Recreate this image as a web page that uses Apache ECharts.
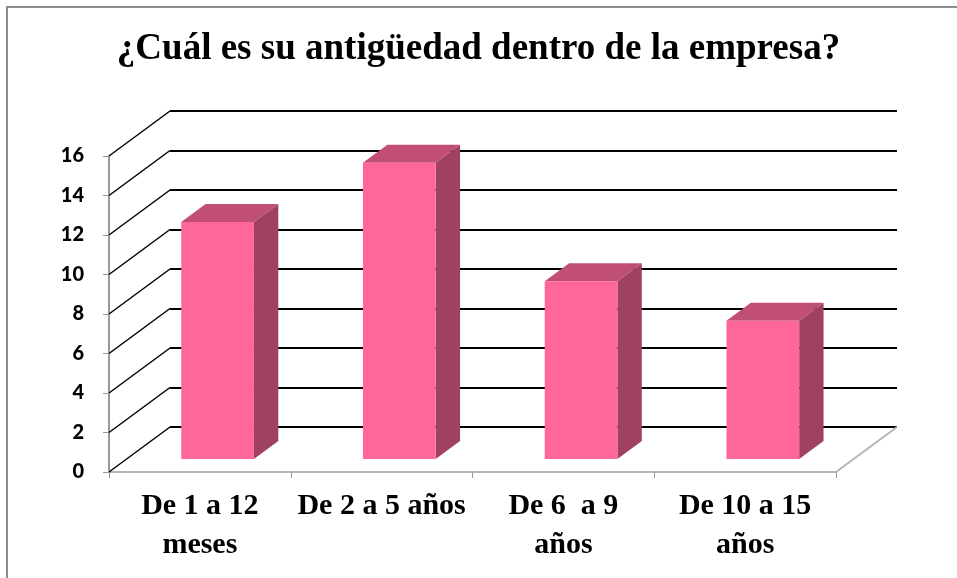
<!DOCTYPE html>
<html>
<head>
<meta charset="utf-8">
<style>
  html, body { margin: 0; padding: 0; background: #fff; }
  #chart { width: 957px; height: 578px; }
</style>
<script src="https://cdn.jsdelivr.net/npm/echarts@6/dist/echarts.min.js"></script>
</head>
<body>
<div id="chart"></div>
<script>
var titleText = '¿Cuál es su antigüedad dentro de la empresa?';
var categories = ['De 1 a 12\nmeses', 'De 2 a 5 años', 'De 6  a 9\naños', 'De 10 a 15\naños'];
var values = [12, 15, 9, 7];
var yMin = 0, yMax = 16, yStep = 2;

// fake 3d: offset of the back wall, and where the bars sit in depth
var depth = [61, -45];
var barFront = 0.29, barBack = 0.69;
var barWidth = 0.4;

var yTicks = [];
for (var v = yMin; v <= yMax; v += yStep) yTicks.push(v);

var chart = echarts.init(document.getElementById('chart'));

function diagRender(params, api) {
  var p = api.coord([0, api.value(1)]);
  var x = p[0] - api.size([1, 0])[0] / 2;
  return {
    type: 'line',
    shape: { x1: x, y1: p[1], x2: x + depth[0], y2: p[1] + depth[1] },
    style: { stroke: '#000', lineWidth: 1.5 }
  };
}

function floorRender(params, api) {
  var p = api.coord([categories.length - 1, 0]);
  var x = p[0] + api.size([1, 0])[0] / 2;
  return {
    type: 'polyline',
    shape: { points: [[x, p[1]], [x + depth[0], p[1] + depth[1]]] },
    style: { stroke: '#b5b5b5', lineWidth: 2, fill: null }
  };
}

function barRender(params, api) {
  var base = api.coord([api.value(0), 0]);
  var top = api.coord([api.value(0), api.value(1)]);
  var w = api.size([1, 0])[0] * barWidth;
  var fx = depth[0] * barFront, fy = depth[1] * barFront;
  var dx = depth[0] * (barBack - barFront), dy = depth[1] * (barBack - barFront);
  var x0 = base[0] + fx - w / 2, x1 = x0 + w;
  var yb = base[1] + fy, yt = top[1] + fy;
  return {
    type: 'group',
    children: [
      {
        type: 'polygon',
        shape: { points: [[x1, yb], [x1 + dx, yb + dy], [x1 + dx, yt + dy], [x1, yt]] },
        style: { fill: '#a04062' }
      },
      {
        type: 'polygon',
        shape: { points: [[x0, yt], [x1, yt], [x1 + dx, yt + dy], [x0 + dx, yt + dy]] },
        style: { fill: '#c14f74' }
      },
      {
        type: 'rect',
        shape: { x: x0, y: yt, width: w, height: yb - yt },
        style: { fill: '#ff6699' }
      }
    ]
  };
}

var option = {
  animation: false,
  title: {
    text: titleText,
    left: 'center',
    top: 26,
    textStyle: { fontFamily: 'Liberation Serif', fontWeight: 'bold', fontSize: 37, color: '#000' }
  },
  graphic: [{
    type: 'rect',
    shape: { x: 7, y: 7, width: 1000, height: 1000 },
    style: { fill: null, stroke: '#8c8c8c', lineWidth: 2 },
    silent: true
  }],
  grid: [
    { left: 109, right: 121, top: 156, bottom: 106 },
    { left: 170, right: 60, top: 111, bottom: 151 }
  ],
  xAxis: [
    {
      type: 'category', gridIndex: 0, data: categories,
      axisLine: { lineStyle: { color: '#b5b5b5', width: 2 } },
      axisTick: { show: true, length: 6, lineStyle: { color: '#999' } },
      axisLabel: {
        margin: 15, color: '#000', fontFamily: 'Liberation Serif', fontWeight: 'bold',
        fontSize: 30, lineHeight: 39, interval: 0
      }
    },
    { type: 'category', gridIndex: 1, data: categories, show: false }
  ],
  yAxis: [
    {
      type: 'value', gridIndex: 0, min: yMin, max: yMax, interval: yStep,
      axisLine: { show: true, lineStyle: { color: '#999', width: 2 } },
      axisTick: { show: true, length: 6, lineStyle: { color: '#999' } },
      splitLine: { show: false },
      axisLabel: { margin: 25, color: '#000', fontFamily: 'Lato', fontWeight: 900, fontSize: 20 }
    },
    {
      type: 'value', gridIndex: 1, min: yMin, max: yMax, interval: yStep,
      axisLine: { show: false }, axisTick: { show: false }, axisLabel: { show: false },
      splitLine: { show: true, lineStyle: { color: '#000', width: 2 } }
    }
  ],
  series: [
    {
      type: 'custom', xAxisIndex: 0, yAxisIndex: 0, clip: false, silent: true,
      renderItem: diagRender,
      data: yTicks.map(function (t) { return [0, t]; })
    },
    {
      type: 'custom', xAxisIndex: 0, yAxisIndex: 0, clip: false, silent: true,
      renderItem: floorRender,
      data: [[0, 0]]
    },
    {
      type: 'custom', xAxisIndex: 0, yAxisIndex: 0, clip: false,
      renderItem: barRender,
      data: values.map(function (val, i) { return [i, val]; })
    }
  ]
};

chart.setOption(option);
</script>
</body>
</html>
